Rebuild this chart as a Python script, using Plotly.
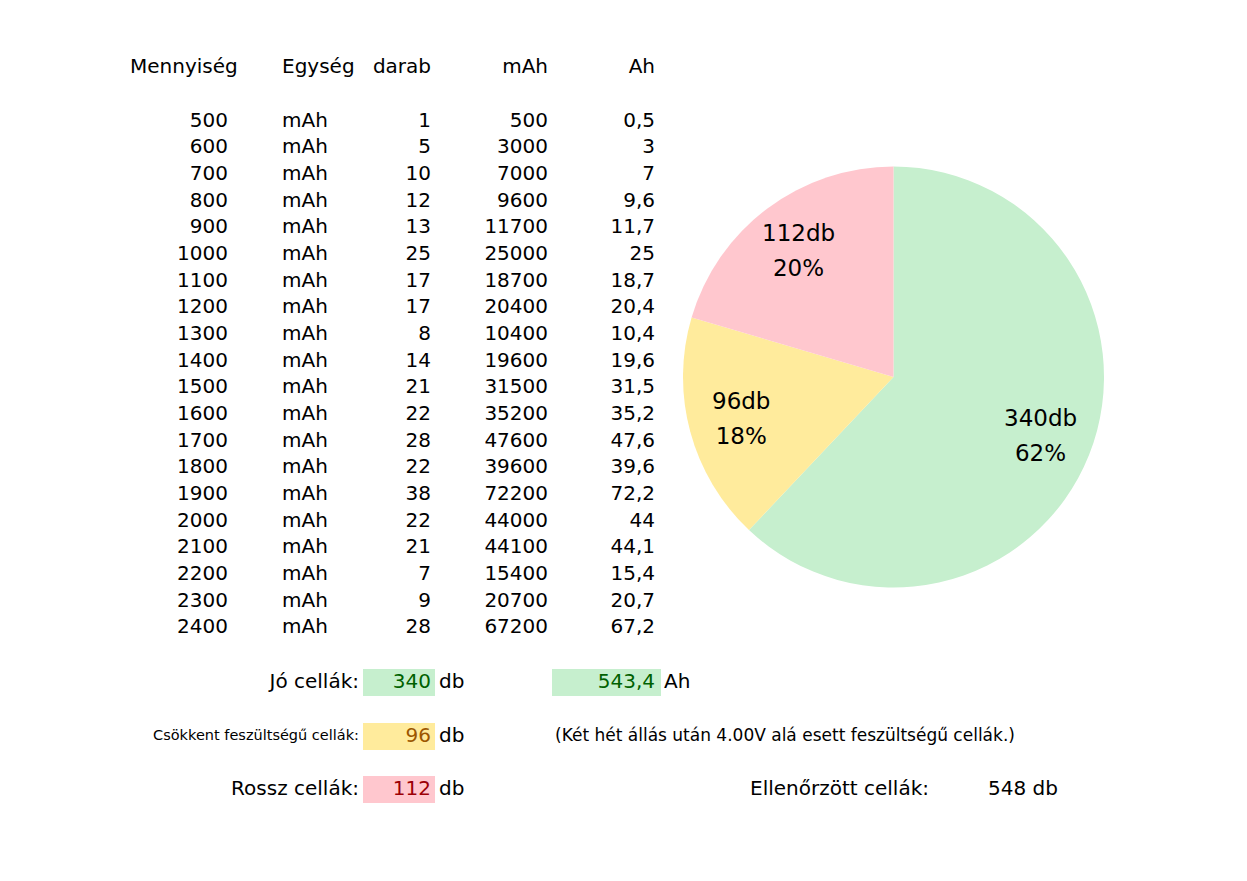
import math
import plotly.graph_objects as go

# Table data
fejlec = ["Mennyiség", "Egység", "darab", "mAh", "Ah"]
mennyiseg = [500, 600, 700, 800, 900, 1000, 1100, 1200, 1300, 1400,
             1500, 1600, 1700, 1800, 1900, 2000, 2100, 2200, 2300, 2400]
egyseg = ["mAh"] * 20
darab = [1, 5, 10, 12, 13, 25, 17, 17, 8, 14, 21, 22, 28, 22, 38, 22, 21, 7, 9, 28]
mah = [500, 3000, 7000, 9600, 11700, 25000, 18700, 20400, 10400, 19600,
       31500, 35200, 47600, 39600, 72200, 44000, 44100, 15400, 20700, 67200]
ah = ["0,5", "3", "7", "9,6", "11,7", "25", "18,7", "20,4", "10,4", "19,6",
      "31,5", "35,2", "47,6", "39,6", "72,2", "44", "44,1", "15,4", "20,7", "67,2"]

# Summary / pie data
kategoriak = ["Jó cellák", "Csökkent feszültségű cellák", "Rossz cellák"]
db_ertekek = [340, 96, 112]
jo_ah = "543,4"
ellenorzott = 548

fill_colors = ["#c6efce", "#ffeb9c", "#ffc7ce"]
text_colors = ["#006100", "#9c5700", "#9c0006"]

FONT = "DejaVu Sans"
FS = 20

# layout positions (pixels, y down)
row_y = [113.5 + i * 26.68 for i in range(len(mennyiseg))]
head_y = 59.5
sum_y = [674.5, 728.5, 781.5]

fig = go.Figure()


def txt(x, y, t, pos, size=FS, color="black"):
    fig.add_trace(go.Scatter(
        x=x, y=y, text=t, mode="text", textposition=pos,
        textfont=dict(family=FONT, size=size, color=color),
        hoverinfo="skip", showlegend=False))


# header
txt([122], [head_y], [fejlec[0]], "middle right")
txt([274], [head_y], [fejlec[1]], "middle right")
txt([423, 540, 647], [head_y] * 3, fejlec[2:], "middle left")

# columns
txt([220] * 20, row_y, [str(v) for v in mennyiseg], "middle left")
txt([274] * 20, row_y, egyseg, "middle right")
txt([423] * 20, row_y, [str(v) for v in darab], "middle left")
txt([540] * 20, row_y, [str(v) for v in mah], "middle left")
txt([647] * 20, row_y, ah, "middle left")

# summary cells
shapes = []
for i in range(3):
    shapes.append(dict(type="rect", xref="x", yref="y", x0=355, x1=427,
                       y0=sum_y[i] - 13.5, y1=sum_y[i] + 13.5,
                       fillcolor=fill_colors[i], line=dict(width=0), layer="below"))
    txt([423], [sum_y[i]], [str(db_ertekek[i])], "middle left", color=text_colors[i])
    txt([431], [sum_y[i]], ["db"], "middle right")
shapes.append(dict(type="rect", xref="x", yref="y", x0=544, x1=653,
                   y0=sum_y[0] - 13.5, y1=sum_y[0] + 13.5,
                   fillcolor=fill_colors[0], line=dict(width=0), layer="below"))

txt([351], [sum_y[0]], [kategoriak[0] + ":"], "middle left")
txt([351], [sum_y[1]], [kategoriak[1] + ":"], "middle left", size=14.5)
txt([351], [sum_y[2]], [kategoriak[2] + ":"], "middle left")
txt([647], [sum_y[0]], [jo_ah], "middle left", color=text_colors[0])
txt([656], [sum_y[0]], ["Ah"], "middle right")
txt([547], [sum_y[1]], ["(Két hét állás után 4.00V alá esett feszültségű cellák.)"],
    "middle right", size=17)
txt([742], [sum_y[2]], ["Ellenőrzött cellák:"], "middle right")
txt([1050], [sum_y[2]], [f"{ellenorzott} db"], "middle left")

# pie (pixel box of the pie inside the page)
px0, px1, py0, py1 = 675, 1096, 158, 580
fig.add_trace(go.Pie(
    labels=kategoriak, values=db_ertekek, sort=False, direction="clockwise",
    rotation=0, marker=dict(colors=fill_colors, line=dict(width=0)),
    textinfo="none",
    domain=dict(x=[px0 / 1247, px1 / 1247], y=[1 - py1 / 881, 1 - py0 / 881]),
    hoverinfo="skip", showlegend=False))

# pie labels placed on each slice's bisector (annotations sit above the pie)
cx, cy = (px0 + px1) / 2, (py0 + py1) / 2
R = (px1 - px0) / 2
total = sum(db_ertekek)
annotations = []
cum = 0
for v in db_ertekek:
    mid = (cum + v / 2) / total * 2 * math.pi
    cum += v
    annotations.append(dict(
        x=cx + 0.75 * R * math.sin(mid), y=cy - 0.75 * R * math.cos(mid),
        xref="x", yref="y", showarrow=False, xanchor="center", yanchor="middle",
        text=(f"<span style='font-size:23px'>{v}db</span><br>"
              f"<span style='font-size:23px'>{round(100 * v / total)}%</span>"),
        font=dict(family=FONT, size=27, color="black")))

fig.update_layout(
    width=1247, height=881,
    margin=dict(l=0, r=0, t=0, b=0),
    paper_bgcolor="white", plot_bgcolor="white",
    xaxis=dict(range=[0, 1247], visible=False, fixedrange=True),
    yaxis=dict(range=[881, 0], visible=False, fixedrange=True),
    shapes=shapes, annotations=annotations,
)

fig.write_html("out.html")
